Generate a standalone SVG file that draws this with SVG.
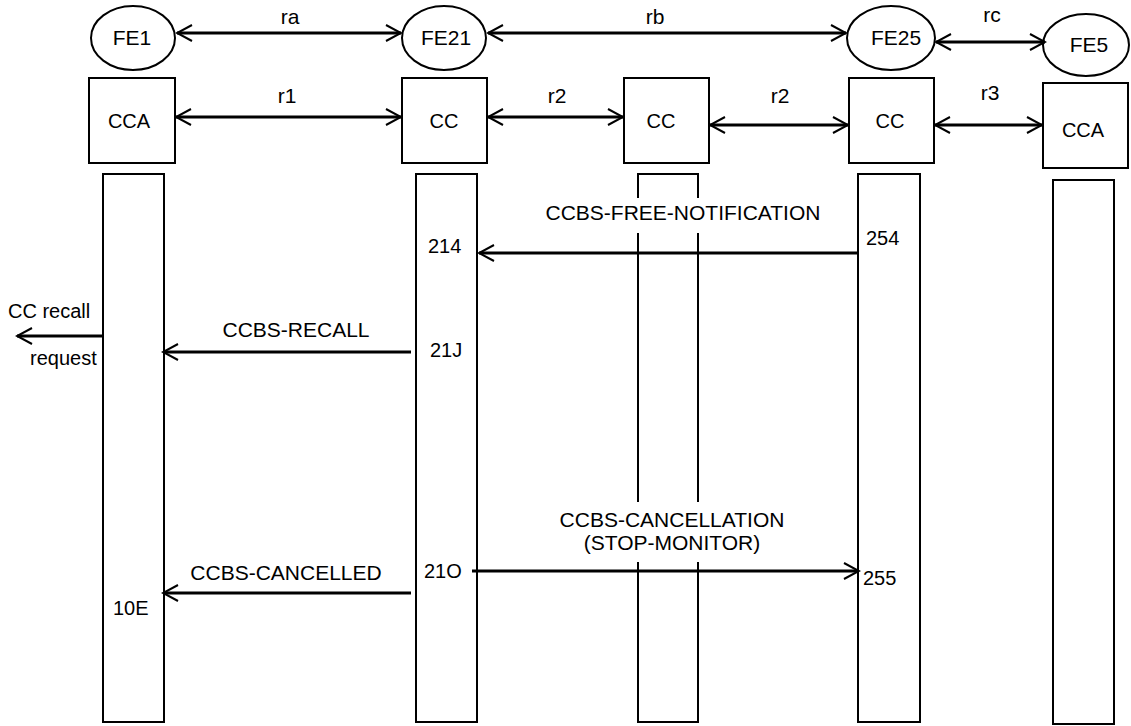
<svg xmlns="http://www.w3.org/2000/svg" width="1131" height="726" viewBox="0 0 1131 726">
<style>
  text { font-family: "Liberation Sans", Arial, sans-serif; fill: #000; }
  .fe { font-size: 21px; text-anchor: middle; }
  .box { fill: #fff; stroke: #000; stroke-width: 2; }
  .bl { font-size: 20px; text-anchor: middle; }
  .rl { font-size: 21px; text-anchor: middle; }
  .msg { font-size: 21px; text-anchor: middle; }
  .num { font-size: 20px; }
  .ln { fill: none; stroke: #000; stroke-width: 3; }
  .bg { fill: #fff; stroke: none; }
</style>
<defs>
  <marker id="ah" markerUnits="userSpaceOnUse" markerWidth="20" markerHeight="20" viewBox="-18 -10 20 20" refX="0" refY="0" orient="auto-start-reverse">
    <path d="M-15,-8 L0,0 L-15,8" fill="none" stroke="#000" stroke-width="2"/>
  </marker>
</defs>
<rect width="1131" height="726" fill="#fff"/>

<g id="fe1"><ellipse cx="133" cy="38" rx="42" ry="32" class="box"/><text class="fe" x="132" y="45">FE1</text></g>
<g id="fe21"><ellipse cx="444" cy="38" rx="42" ry="32" class="box"/><text class="fe" x="446" y="45">FE21</text></g>
<g id="fe25"><ellipse cx="891" cy="38" rx="44" ry="32" class="box"/><text class="fe" x="896" y="45">FE25</text></g>
<g id="fe5"><ellipse cx="1086" cy="45" rx="43" ry="31" class="box"/><text class="fe" x="1089" y="52">FE5</text></g>

<g id="cca1"><rect x="89" y="78" width="86" height="85" class="box"/><text class="bl" x="129" y="128">CCA</text></g>
<g id="cc2"><rect x="402" y="78" width="85" height="85" class="box"/><text class="bl" x="444" y="128">CC</text></g>
<g id="cc3"><rect x="624" y="78" width="85" height="85" class="box"/><text class="bl" x="661" y="128">CC</text></g>
<g id="cc4"><rect x="849" y="78" width="85" height="85" class="box"/><text class="bl" x="890" y="128">CC</text></g>
<g id="cca5"><rect x="1043" y="83" width="85" height="85" class="box"/><text class="bl" x="1083" y="137">CCA</text></g>

<g id="bar1"><rect x="103" y="174" width="61" height="548" class="box"/></g>
<g id="bar2"><rect x="416" y="174" width="61" height="548" class="box"/></g>
<g id="bar3"><rect x="638" y="174" width="60" height="548" class="box"/></g>
<g id="bar4"><rect x="858" y="174" width="62" height="548" class="box"/></g>
<g id="bar5"><rect x="1053" y="180" width="61" height="544" class="box"/></g>

<g id="connectors">
  <line x1="177" y1="33" x2="401" y2="33" class="ln" marker-start="url(#ah)" marker-end="url(#ah)"/>
  <line x1="488" y1="33" x2="846" y2="33" class="ln" marker-start="url(#ah)" marker-end="url(#ah)"/>
  <line x1="936" y1="42" x2="1045" y2="42" class="ln" marker-start="url(#ah)" marker-end="url(#ah)"/>
  <line x1="176" y1="117" x2="401" y2="117" class="ln" marker-start="url(#ah)" marker-end="url(#ah)"/>
  <line x1="488" y1="117" x2="623" y2="117" class="ln" marker-start="url(#ah)" marker-end="url(#ah)"/>
  <line x1="710" y1="125" x2="848" y2="125" class="ln" marker-start="url(#ah)" marker-end="url(#ah)"/>
  <line x1="935" y1="125" x2="1042" y2="125" class="ln" marker-start="url(#ah)" marker-end="url(#ah)"/>

  <text class="rl" x="290" y="24">ra</text>
  <text class="rl" x="655" y="24">rb</text>
  <text class="rl" x="992" y="22">rc</text>
  <text class="rl" x="287" y="103">r1</text>
  <text class="rl" x="557" y="103">r2</text>
  <text class="rl" x="780" y="103">r2</text>
  <text class="rl" x="990" y="100">r3</text>

  <rect x="540" y="198" width="288" height="35" class="bg"/>
  <text class="msg" x="683" y="220">CCBS-FREE-NOTIFICATION</text>
  <line x1="858" y1="253" x2="479" y2="253" class="ln" marker-end="url(#ah)"/>
  <text class="num" x="866" y="245">254</text>
  <text class="num" x="428" y="253">214</text>

  <text class="num" x="8" y="318">CC recall</text>
  <text class="num" x="30" y="365">request</text>
  <line x1="102" y1="336" x2="17" y2="336" class="ln" marker-end="url(#ah)"/>

  <text class="msg" x="296" y="337">CCBS-RECALL</text>
  <line x1="411" y1="352" x2="163" y2="352" class="ln" marker-end="url(#ah)"/>
  <text class="num" x="430" y="357">21J</text>

  <rect x="552" y="502" width="242" height="60" class="bg"/>
  <text class="msg" x="672" y="527">CCBS-CANCELLATION</text>
  <text class="msg" x="672" y="550">(STOP-MONITOR)</text>
  <line x1="472" y1="571" x2="859" y2="571" class="ln" marker-end="url(#ah)"/>
  <text class="num" x="424" y="578">21O</text>
  <text class="num" x="863" y="585">255</text>

  <text class="msg" x="286" y="580">CCBS-CANCELLED</text>
  <line x1="411" y1="593" x2="163" y2="593" class="ln" marker-end="url(#ah)"/>
  <text class="num" x="113" y="615">10E</text>
</g>
</svg>
